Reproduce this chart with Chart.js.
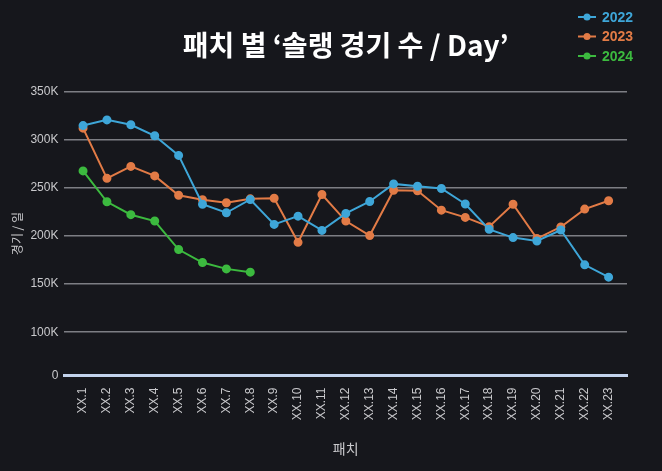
<!DOCTYPE html>
<html>
<head>
<meta charset="utf-8">
<script src="https://cdn.jsdelivr.net/npm/chart.js@4/dist/chart.umd.min.js"></script>
<style>
  html, body { margin: 0; padding: 0; background: #16171c; }
  #wrap { width: 662px; height: 471px; }
</style>
</head>
<body>
<div id="wrap"><canvas id="patchChart"></canvas></div>
<script>
// ─── data ───
const patches = ['XX.1','XX.2','XX.3','XX.4','XX.5','XX.6','XX.7','XX.8','XX.9','XX.10','XX.11','XX.12',
  'XX.13','XX.14','XX.15','XX.16','XX.17','XX.18','XX.19','XX.20','XX.21','XX.22','XX.23'];

const games2022 = [314700, 320600, 315500, 304100, 283700, 233000, 224100, 237900, 212000, 220600, 205800, 223400,
  235800, 254100, 251700, 249300, 233200, 206900, 198300, 194800, 206200, 170000, 157200];
const games2023 = [312000, 259900, 272300, 262400, 242300, 237600, 234500, 238600, 239200, 193400, 243100, 215500,
  200400, 247500, 246900, 226800, 219300, 209700, 233000, 197300, 209300, 227900, 236600];
const games2024 = [267600, 235500, 222100, 215500, 185900, 172400, 165800, 162400];

const yTickValues = [55000, 100000, 150000, 200000, 250000, 300000, 350000];
const yTickLabels = ['0', '100K', '150K', '200K', '250K', '300K', '350K'];

const SERIES = [
  { label: '2022', data: games2022, color: '#3ea6d8' },
  { label: '2023', data: games2023, color: '#e27b46' },
  { label: '2024', data: games2024, color: '#3cba3f' },
];

const TEXT = '#c9c9cc';
const GRID = '#7d7e84';

// legend drawn by hand: line + dot marker, coloured bold text
const sideLegend = {
  id: 'sideLegend',
  afterDraw(chart) {
    const ctx = chart.ctx;
    const x0 = chart.width - 84;
    ctx.save();
    chart.data.datasets.forEach((ds, i) => {
      const y = 17 + i * 19.5;
      ctx.strokeStyle = ds.borderColor;
      ctx.fillStyle = ds.borderColor;
      ctx.lineWidth = 2;
      ctx.beginPath();
      ctx.moveTo(x0, y);
      ctx.lineTo(x0 + 18, y);
      ctx.stroke();
      ctx.beginPath();
      ctx.arc(x0 + 9, y, 3.5, 0, Math.PI * 2);
      ctx.fill();
      ctx.font = 'bold 14px "Liberation Sans", Arial, sans-serif';
      ctx.textBaseline = 'middle';
      ctx.fillText(ds.label, x0 + 24, y + 1);
    });
    ctx.restore();
  }
};

const bg = {
  id: 'bg',
  beforeDraw(chart) {
    const ctx = chart.ctx;
    ctx.save();
    ctx.fillStyle = '#16171c';
    ctx.fillRect(0, 0, chart.width, chart.height);
    ctx.restore();
  }
};

new Chart(document.getElementById('patchChart'), {
  type: 'line',
  data: {
    datasets: SERIES.map(s => ({
      label: s.label,
      data: s.data.map((v, i) => ({ x: i, y: v })),
      borderColor: s.color,
      backgroundColor: s.color,
      borderWidth: 2,
      pointRadius: 3.5,
      pointHoverRadius: 3.5,
      tension: 0,
      fill: false,
    }))
  },
  options: {
    responsive: true,
    maintainAspectRatio: false,
    animation: false,
    layout: { padding: { left: 0, right: 35, bottom: 14, top: 0 } },
    plugins: {
      legend: { display: false },
      tooltip: { enabled: false },
      title: {
        display: true,
        fullSize: false,
        text: '패치 별 ‘솔랭 경기 수 / Day’',
        color: '#ffffff',
        font: { family: '"Noto Sans CJK KR", "Noto Sans", sans-serif', size: 28, weight: 'bold' },
        padding: { top: 29, bottom: 29 }
      }
    },
    scales: {
      x: {
        type: 'linear',
        min: -0.78,
        max: 22.77,
        afterBuildTicks: axis => { axis.ticks = patches.map((_, i) => ({ value: i })); },
        ticks: {
          color: TEXT,
          font: { family: '"Liberation Sans", Arial, sans-serif', size: 12 },
          minRotation: 90, maxRotation: 90,
          autoSkip: false,
          padding: 4,
          callback: v => patches[v]
        },
        grid: { display: false },
        border: { display: true, color: '#c3d3ec', width: 3 },
        title: {
          display: true, text: '패치', color: TEXT,
          font: { family: '"Noto Sans CJK KR", sans-serif', size: 14 },
          padding: { top: 16, bottom: 0 }
        }
      },
      y: {
        min: 55000,
        max: 350000,
        afterBuildTicks: axis => { axis.ticks = yTickValues.map(v => ({ value: v })); },
        ticks: {
          color: TEXT,
          font: { family: '"Liberation Sans", Arial, sans-serif', size: 12 },
          padding: 6,
          callback: v => yTickLabels[yTickValues.indexOf(v)]
        },
        grid: {
          color: c => (c.tick && c.tick.value === yTickValues[0]) ? 'rgba(0,0,0,0)' : GRID,
          lineWidth: 1.5,
          drawTicks: false
        },
        border: { display: false },
        title: {
          display: true, text: '경기 / 일', color: TEXT,
          font: { family: '"Noto Sans CJK KR", sans-serif', size: 12 },
          padding: { top: 10, bottom: 0 }
        }
      }
    }
  },
  plugins: [bg, sideLegend]
});
</script>
</body>
</html>
